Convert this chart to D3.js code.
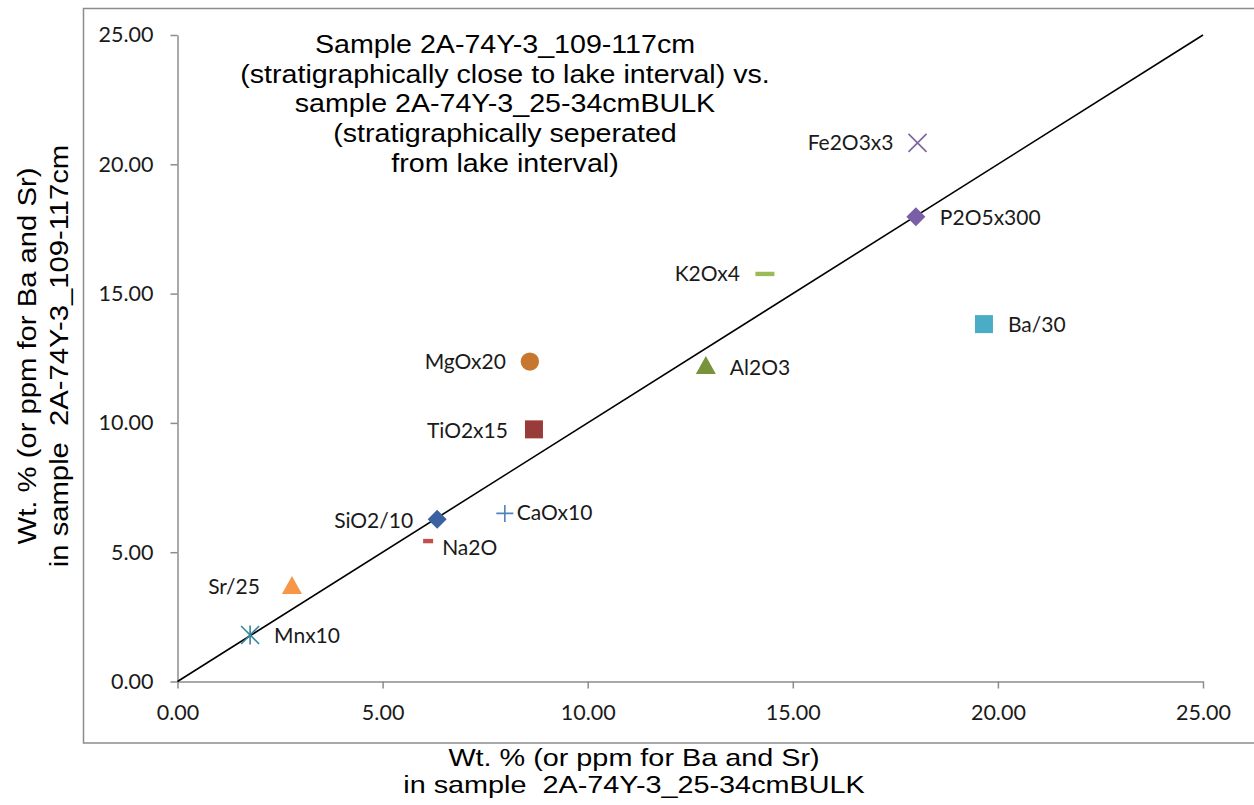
<!DOCTYPE html>
<html>
<head>
<meta charset="utf-8">
<script src="https://cdn.jsdelivr.net/npm/d3@7/dist/d3.min.js"></script>
<style>
  html, body { margin: 0; padding: 0; background: #ffffff; }
  svg { display: block; }
  svg text { white-space: pre; }
</style>
</head>
<body>
<svg id="chart" width="1254" height="805"></svg>
<script>
// Oxide / element ratios: bulk sample (x) against the 109-117 cm sample (y)
const names   = ["Fe2O3x3", "P2O5x300", "K2Ox4", "Ba/30", "Al2O3", "MgOx20",
                 "TiO2x15", "CaOx10", "SiO2/10", "Na2O", "Sr/25", "Mnx10"];
const xValues = [18.04, 18.00, 14.32, 19.66, 12.88, 8.59, 8.69, 7.98, 6.33, 6.11, 2.79, 1.77];
const yValues = [20.83, 17.97, 15.76, 13.82, 12.20, 12.37, 9.75, 6.50, 6.27, 5.43, 3.69, 1.80];
const tickValues = [0, 5, 10, 15, 20, 25];
const titleLines = [
  "Sample 2A-74Y-3_109-117cm",
  "(stratigraphically close to lake interval) vs.",
  "sample 2A-74Y-3_25-34cmBULK",
  "(stratigraphically seperated",
  "from lake interval)"
];
const xTitleLines = ["Wt. % (or ppm for Ba and Sr)", "in sample  2A-74Y-3_25-34cmBULK"];
const yTitleLines = ["Wt. % (or ppm for Ba and Sr)", "in sample  2A-74Y-3_109-117cm"];

// marker style for each series
const markerStyle = {
  "Fe2O3x3":  { shape: "x",        color: "#8064A2" },
  "P2O5x300": { shape: "diamond",  color: "#7B5FA6" },
  "K2Ox4":    { shape: "dash",     color: "#9BBB59", w: 19 },
  "Ba/30":    { shape: "square",   color: "#4BACC6" },
  "Al2O3":    { shape: "triangle", color: "#77933C" },
  "MgOx20":   { shape: "circle",   color: "#C8772F" },
  "TiO2x15":  { shape: "square",   color: "#993B39" },
  "CaOx10":   { shape: "plus",     color: "#4F81BD" },
  "SiO2/10":  { shape: "diamond",  color: "#3A62A0" },
  "Na2O":     { shape: "dash",     color: "#C0504D", w: 10 },
  "Sr/25":    { shape: "triangle", color: "#F79646" },
  "Mnx10":    { shape: "star",     color: "#31859C" }
};
// data label placement (pixel offset from marker centre)
const labelPlace = {
  "Fe2O3x3":  { dx: -24, dy: 0, anchor: "end" },
  "P2O5x300": { dx: 24,  dy: 1, anchor: "start" },
  "K2Ox4":    { dx: -25, dy: 0, anchor: "end" },
  "Ba/30":    { dx: 24,  dy: 1, anchor: "start" },
  "Al2O3":    { dx: 24,  dy: 2, anchor: "start" },
  "MgOx20":   { dx: -24, dy: 0, anchor: "end" },
  "TiO2x15":  { dx: -26, dy: 1, anchor: "end" },
  "CaOx10":   { dx: 12,  dy: -1, anchor: "start" },
  "SiO2/10":  { dx: -24, dy: 1, anchor: "end" },
  "Na2O":     { dx: 14,  dy: 7, anchor: "start" },
  "Sr/25":    { dx: -32, dy: 1, anchor: "end" },
  "Mnx10":    { dx: 24,  dy: 1, anchor: "start" }
};

const svg = d3.select("#chart");
const axisColor = "#8c8c8c";
const tickFont = "Lato, 'Open Sans', sans-serif";
const arial = "'Liberation Sans', Arial, sans-serif";

// chart frame (continues past the right edge)
svg.append("rect")
  .attr("x", 83.5).attr("y", 8.5).attr("width", 1200).attr("height", 734.5)
  .attr("fill", "none").attr("stroke", axisColor).attr("stroke-width", 1.5);

const x = d3.scaleLinear().domain([0, 25]).range([177.5, 1203]);
const y = d3.scaleLinear().domain([0, 25]).range([681.5, 35]);

// axes
const xAxis = d3.axisBottom(x).tickValues(tickValues).tickFormat(d3.format(".2f"))
  .tickSizeInner(7).tickSizeOuter(0).tickPadding(16);
const yAxis = d3.axisLeft(y).tickValues(tickValues).tickFormat(d3.format(".2f"))
  .tickSizeInner(7).tickSizeOuter(0).tickPadding(17);

const gx = svg.append("g").attr("transform", `translate(0,${y(0)})`).call(xAxis);
const gy = svg.append("g").attr("transform", `translate(${x(0)},0)`).call(yAxis);
[gx, gy].forEach(g => {
  g.select(".domain").attr("stroke", axisColor).attr("stroke-width", 1.5);
  g.selectAll(".tick line").attr("stroke", axisColor).attr("stroke-width", 1.5);
  g.selectAll(".tick text").attr("fill", "#1a1a1a")
    .style("font-family", tickFont).style("font-size", "21.5px");
});

// 1:1 reference line
svg.append("line")
  .attr("x1", x(0)).attr("y1", y(0)).attr("x2", x(25)).attr("y2", y(25))
  .attr("stroke", "#000").attr("stroke-width", 1.6);

// markers
const points = names.map((n, i) => ({ name: n, x: xValues[i], y: yValues[i] }));
const mk = svg.append("g");
points.forEach(p => {
  const s = markerStyle[p.name];
  const cx = x(p.x), cy = y(p.y);
  const g = mk.append("g").attr("transform", `translate(${cx},${cy})`);
  switch (s.shape) {
    case "diamond":
      g.append("path").attr("d", "M0,-9.5L9.5,0L0,9.5L-9.5,0Z").attr("fill", s.color);
      break;
    case "square":
      g.append("rect").attr("x", -9).attr("y", -9).attr("width", 18).attr("height", 18).attr("fill", s.color);
      break;
    case "circle":
      g.append("circle").attr("r", 9.2).attr("fill", s.color);
      break;
    case "triangle":
      g.append("path").attr("d", "M0,-10L10,8L-10,8Z").attr("fill", s.color);
      break;
    case "dash":
      g.append("rect").attr("x", -s.w / 2).attr("y", -2.2).attr("width", s.w).attr("height", 4.4).attr("fill", s.color);
      break;
    case "x":
      g.append("path").attr("d", "M-9,-9L9,9M-9,9L9,-9").attr("stroke", s.color).attr("stroke-width", 1.6);
      break;
    case "plus":
      g.append("path").attr("d", "M-8.5,0L8.5,0M0,-8.5L0,8.5").attr("stroke", s.color).attr("stroke-width", 1.6);
      break;
    case "star":
      g.append("path").attr("d", "M-9,-9L9,9M-9,9L9,-9M0,-9.5L0,9.5").attr("stroke", s.color).attr("stroke-width", 1.6);
      break;
  }
});

// data labels
svg.append("g").selectAll("text").data(points).join("text")
  .attr("x", d => x(d.x) + labelPlace[d.name].dx)
  .attr("y", d => y(d.y) + labelPlace[d.name].dy)
  .attr("dy", "0.35em")
  .attr("text-anchor", d => labelPlace[d.name].anchor)
  .attr("fill", "#1a1a1a")
  .style("font-family", tickFont).style("font-size", "21px")
  .text(d => d.name);

// chart title
const title = svg.append("g");
titleLines.forEach((t, i) => {
  title.append("text")
    .attr("transform", `translate(505,${53 + i * 29.7}) scale(1.145,1)`)
    .attr("text-anchor", "middle").attr("fill", "#000")
    .style("font-family", arial).style("font-size", "25px")
    .text(t);
});

// axis titles
xTitleLines.forEach((t, i) => {
  svg.append("text")
    .attr("transform", `translate(634,${766 + i * 27}) scale(1.2,1)`)
    .attr("text-anchor", "middle").attr("fill", "#000")
    .style("font-family", arial).style("font-size", "24px")
    .text(t);
});
yTitleLines.forEach((t, i) => {
  svg.append("text")
    .attr("transform", `translate(${36 + i * 32},356) rotate(-90) scale(1.17,1)`)
    .attr("text-anchor", "middle").attr("fill", "#000")
    .style("font-family", arial).style("font-size", "25px")
    .text(t);
});
</script>
</body>
</html>
